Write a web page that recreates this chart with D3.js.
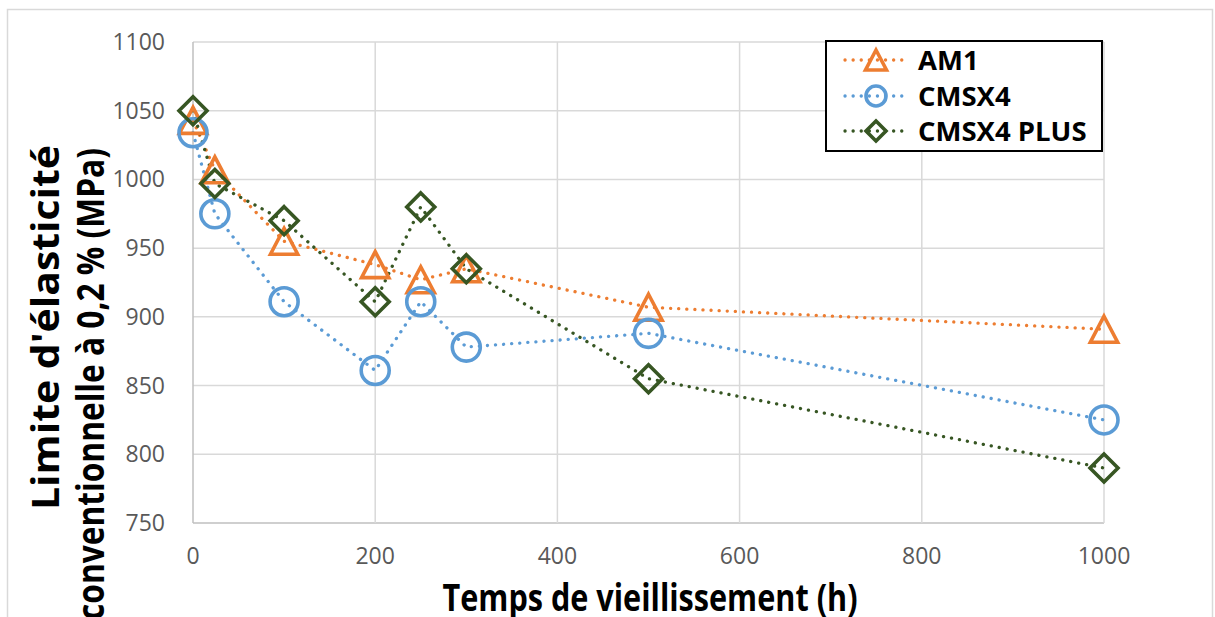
<!DOCTYPE html>
<html><head><meta charset="utf-8">
<script src="https://cdn.jsdelivr.net/npm/d3@7/dist/d3.min.js"></script>
<style>
html,body{margin:0;padding:0;background:#fff;}
svg{display:block;font-family:"Open Sans","Liberation Sans",sans-serif;}
</style></head>
<body>
<svg id="chart" width="1215" height="617"></svg>
<script>
const hours = [0, 24, 100, 200, 250, 300, 500, 1000];
const am1 = [1043, 1007, 955, 938, 927, 935, 907, 891];
const cmsx4 = [1034, 975, 911, 861, 911, 878, 888, 825];
const cmsx4plus = [1050, 997, 970, 911, 980, 935, 855, 790];
const seriesNames = ["AM1", "CMSX4", "CMSX4 PLUS"];
const xTicks = [0, 200, 400, 600, 800, 1000];
const yTicks = [750, 800, 850, 900, 950, 1000, 1050, 1100];
const xTitle = "Temps de vieillissement (h)";
const yTitle1 = "Limite d'élasticité";
const yTitle2 = "conventionnelle à 0,2 % (MPa)";

const svg = d3.select("#chart");
const x = d3.scaleLinear().domain([0, 1000]).range([193, 1104]);
const y = d3.scaleLinear().domain([750, 1100]).range([523, 42]);

// chart outer border
svg.append("rect").attr("x", 7.5).attr("y", 9.5).attr("width", 1205).attr("height", 640)
  .attr("fill", "none").attr("stroke", "#D9D9D9").attr("stroke-width", 1.5);

// gridlines
const grid = svg.append("g");
grid.selectAll("line.h").data(yTicks).join("line")
  .attr("x1", x(0)).attr("x2", x(1000)).attr("y1", d => y(d)).attr("y2", d => y(d))
  .attr("stroke", d => d === 750 ? "#BFBFBF" : "#D9D9D9").attr("stroke-width", 1.5);
grid.selectAll("line.v").data(xTicks).join("line")
  .attr("y1", y(750)).attr("y2", y(1100)).attr("x1", d => x(d)).attr("x2", d => x(d))
  .attr("stroke", d => d === 0 ? "#BFBFBF" : "#D9D9D9").attr("stroke-width", 1.5);

// tick labels
svg.append("g").selectAll("text").data(yTicks).join("text")
  .attr("x", 165).attr("y", d => y(d) + 8).attr("text-anchor", "end")
  .attr("font-size", 23).attr("fill", "#595959").text(d => d);
svg.append("g").selectAll("text").data(xTicks).join("text")
  .attr("x", d => x(d)).attr("y", 564).attr("text-anchor", "middle")
  .attr("font-size", 23).attr("fill", "#595959").text(d => d);

// axis titles
svg.append("text").attr("transform", "translate(650,611) scale(1,1.12)").attr("text-anchor", "middle")
  .attr("font-size", 33).attr("font-weight", "bold").attr("fill", "#000")
  .attr("textLength", 415).attr("lengthAdjust", "spacingAndGlyphs").text(xTitle);
svg.append("text").attr("transform", "translate(59,510) rotate(-90)")
  .attr("font-size", 38).attr("font-weight", "bold").attr("fill", "#000")
  .attr("textLength", 365).attr("lengthAdjust", "spacingAndGlyphs").text(yTitle1);
svg.append("text").attr("transform", "translate(104,620) rotate(-90)")
  .attr("font-size", 38).attr("font-weight", "bold").attr("fill", "#000")
  .attr("textLength", 472).attr("lengthAdjust", "spacingAndGlyphs").text(yTitle2);

const series = [
  {name: seriesNames[0], values: am1, color: "#ED7D31", shape: "triangle"},
  {name: seriesNames[1], values: cmsx4, color: "#5B9BD5", shape: "circle"},
  {name: seriesNames[2], values: cmsx4plus, color: "#375623", shape: "diamond"}
];

function drawMarker(g, shape, cx, cy, s, color, sw) {
  if (shape === "triangle") {
    const h = s, w = s * 1.05;
    g.append("path").attr("d", `M${cx},${cy - h/2} L${cx + w/2},${cy + h/2} L${cx - w/2},${cy + h/2} Z`)
      .attr("fill", "none").attr("stroke", color).attr("stroke-width", sw).attr("stroke-linejoin", "miter");
  } else if (shape === "circle") {
    g.append("circle").attr("cx", cx).attr("cy", cy).attr("r", s/2)
      .attr("fill", "none").attr("stroke", color).attr("stroke-width", sw);
  } else {
    const r = s/2;
    g.append("path").attr("d", `M${cx},${cy - r} L${cx + r},${cy} L${cx},${cy + r} L${cx - r},${cy} Z`)
      .attr("fill", "none").attr("stroke", color).attr("stroke-width", sw);
  }
}

const line = d3.line().x(d => x(d[0])).y(d => y(d[1]));
series.forEach(s => {
  const pts = hours.map((h, i) => [h, s.values[i]]);
  svg.append("path").datum(pts).attr("d", line).attr("fill", "none")
    .attr("stroke", s.color).attr("stroke-width", 3.3).attr("stroke-linecap", "round")
    .attr("stroke-dasharray", "0.1 8");
});
series.forEach(s => {
  const g = svg.append("g");
  hours.forEach((h, i) => {
    const size = s.shape === "circle" ? 28 : (s.shape === "triangle" ? 26 : 28);
    drawMarker(g, s.shape, x(h), y(s.values[i]), size, s.color, 3.6);
  });
});

// legend
const lg = svg.append("g");
lg.append("rect").attr("x", 826).attr("y", 41).attr("width", 276).attr("height", 110)
  .attr("fill", "#fff").attr("stroke", "#000").attr("stroke-width", 2);
const legY = [60, 96, 131];
series.forEach((s, i) => {
  const cy = legY[i];
  lg.append("line").attr("x1", 845).attr("x2", 906).attr("y1", cy).attr("y2", cy)
    .attr("stroke", s.color).attr("stroke-width", 3.3).attr("stroke-linecap", "round")
    .attr("stroke-dasharray", "0.1 8");
  drawMarker(lg, s.shape, 876, cy, 20, s.color, 3.6);
  lg.append("text").attr("x", 918).attr("y", cy + 10).attr("font-size", 27.5)
    .attr("font-weight", "bold").attr("fill", "#000").text(s.name);
});
</script>
</body></html>
